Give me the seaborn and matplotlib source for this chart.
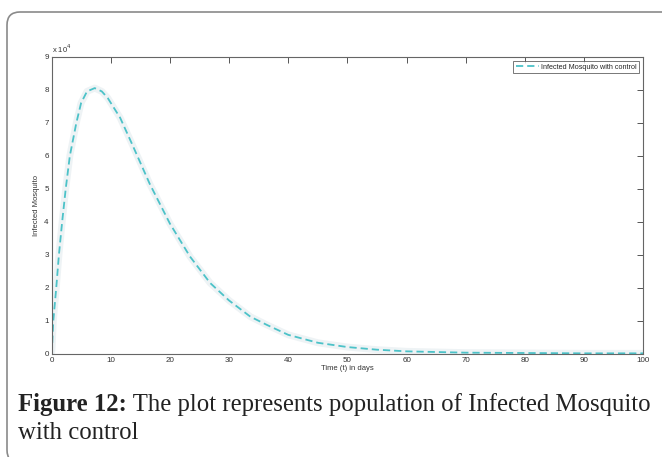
"""Infected mosquito population with control, MATLAB-style figure with caption."""

import matplotlib

matplotlib.use("Agg")

import matplotlib.pyplot as plt
import pandas as pd
import seaborn as sns
from matplotlib.patches import FancyBboxPatch
from matplotlib.ticker import FuncFormatter

# values
days = [0, 0.1, 0.3, 0.8, 1.25, 1.8, 2.4, 3.1, 4.2, 5.0, 6.0, 7.3, 8.5, 9.5,
        11.6, 13.5, 16.6, 20.0, 23.4, 26.8, 30.0, 33.6, 36.4, 40.0, 45.0,
        50.0, 55.0, 60.0, 70.0, 80.0, 90.0, 100.0]
infected = [0, 2000, 10000, 20000, 30000, 40000, 50000, 60000, 70000, 76000,
            79500, 80500, 79500, 77500, 71500, 64000, 51500, 39500, 29500,
            21500, 16200, 11300, 8800, 5800, 3400, 2100, 1300, 800, 400, 300,
            200, 200]
x_ticks = list(range(0, 101, 10))
y_ticks = list(range(0, 90001, 10000))

series_label = "Infected Mosquito with control"
caption_bold = "Figure 12:"
caption_rest = " The plot represents population of Infected Mosquito"
caption_line2 = "with control"

sns.set_theme(style="white")
plt.rcParams["font.family"] = ["Liberation Sans", "DejaVu Sans"]

frame = pd.DataFrame({"t": days, "infected": infected})

fig = plt.figure(figsize=(6.62, 4.57), dpi=100)
ax = fig.add_axes([0.0778, 0.2254, 0.894, 0.6505])

# faint halo behind the curve, like the compression smear in the source
sns.lineplot(data=frame, x="t", y="infected", ax=ax, color="#eef3f5",
             linewidth=5, legend=False)
sns.lineplot(data=frame, x="t", y="infected", ax=ax, color="#4cc2c8",
             linewidth=1.3, linestyle=(0, (4, 2.2)), label=series_label)

ax.set_xlim(0, 100)
ax.set_ylim(0, 90000)
ax.set_xticks(x_ticks)
ax.set_yticks(y_ticks)
ax.yaxis.set_major_formatter(FuncFormatter(lambda v, _: f"{v / 1e4:g}"))
ax.tick_params(direction="in", length=4, width=0.7, colors="#555555",
               labelsize=5.8, labelcolor="#333333", top=True, right=True,
               pad=2)
for spine in ax.spines.values():
    spine.set_color("#666666")
    spine.set_linewidth(0.8)

ax.set_xlabel("Time (t) in days", fontsize=5.5, color="#333333", labelpad=1)
ax.set_ylabel("Infected Mosquito", fontsize=5.5, color="#333333", labelpad=3)
ax.text(0.0, 1.005, r"x 10$^4$", transform=ax.transAxes, fontsize=5.5,
        color="#333333", ha="left", va="bottom")

leg = ax.legend(loc="upper right", fontsize=5.2, frameon=True, fancybox=False,
                handlelength=3.2, handletextpad=0.3, borderpad=0.35,
                borderaxespad=0.6)
leg.get_frame().set_edgecolor("#555555")
leg.get_frame().set_linewidth(0.7)

# rounded frame around the whole figure panel
box = FancyBboxPatch((0.07, -0.06), 6.8, 4.51,
                     boxstyle="round,pad=0,rounding_size=0.13",
                     transform=fig.dpi_scale_trans, facecolor="none",
                     edgecolor="#8a8a8a", linewidth=1.2)
fig.patches.append(box)

caption_font = ["Liberation Serif", "DejaVu Serif"]
caption_size = 17.8
t1 = fig.text(18 / 662, 1 - 411 / 457, caption_bold, fontsize=caption_size,
              fontweight="bold", family=caption_font, color="#222222",
              va="baseline")
fig.canvas.draw()
bb = t1.get_window_extent()
fig.text(bb.x1 / fig.bbox.width, 1 - 411 / 457, caption_rest,
         fontsize=caption_size, family=caption_font, color="#222222",
         va="baseline")
fig.text(18 / 662, 1 - 439 / 457, caption_line2, fontsize=caption_size,
         family=caption_font, color="#222222", va="baseline")

fig.savefig("out.png", dpi=100)
plt.close(fig)
